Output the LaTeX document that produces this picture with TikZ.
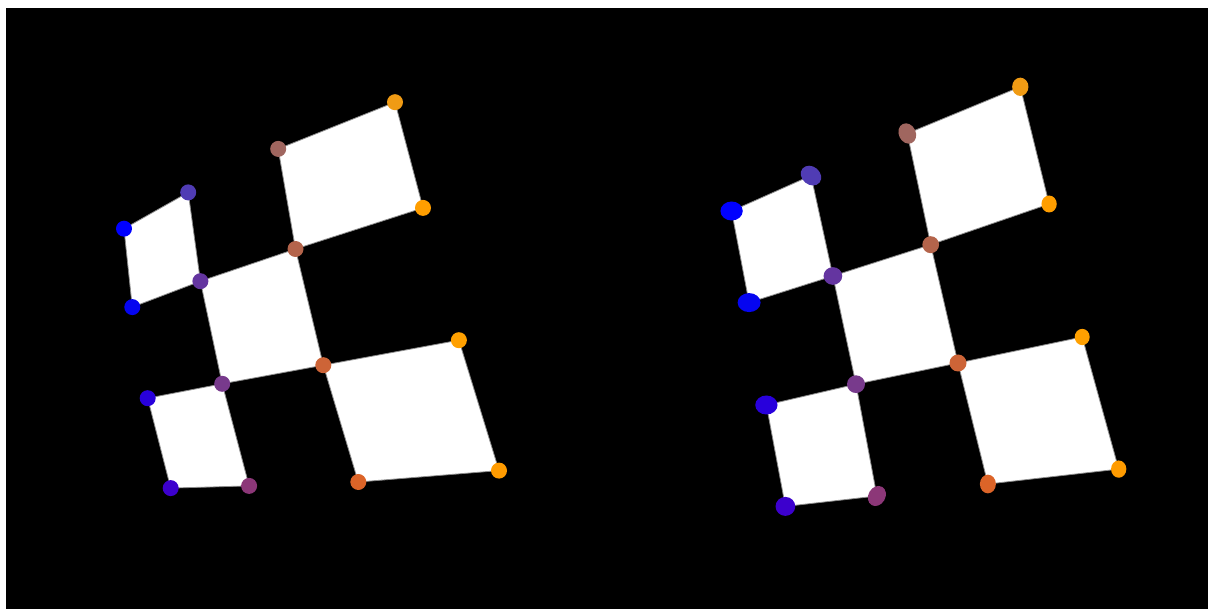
\documentclass[tikz,border=0pt]{standalone}
\usetikzlibrary{calc,shapes.geometric}
\definecolor{cAa}{HTML}{0000FF}
\definecolor{cAb}{HTML}{503CB4}
\definecolor{cAc}{HTML}{0505F0}
\definecolor{cAd}{HTML}{6435A0}
\definecolor{cBa}{HTML}{A0665F}
\definecolor{cBb}{HTML}{F09B14}
\definecolor{cBc}{HTML}{FF9E00}
\definecolor{cBd}{HTML}{B4644B}
\definecolor{cC}{HTML}{CD6437}
\definecolor{cD}{HTML}{783A8C}
\definecolor{cEa}{HTML}{2800DC}
\definecolor{cEb}{HTML}{3C00CD}
\definecolor{cEc}{HTML}{8C3778}
\definecolor{cFa}{HTML}{FFA000}
\definecolor{cFb}{HTML}{FF9B00}
\definecolor{cFc}{HTML}{DC6428}
\begin{document}
\begin{tikzpicture}[x=1pt,y=-1pt,
  quad/.style={fill=white,draw=white!55!black,line width=0.8pt,line join=round},
  dotc/.style={circle,inner sep=0pt,minimum size=16pt,draw=none},
  doto/.style={ellipse,inner sep=0pt,draw=none}]
\useasboundingbox (0,0) rectangle (1208,609);
\fill[white] (0,0) rectangle (1208,609);
\fill[black] (6,8.5) rectangle (1208,609);
% ---------- left panel corners ----------
\coordinate (LA1) at (124,228.7);
\coordinate (LA2) at (188.2,192.4);
\coordinate (LA3) at (132.3,307.1);
\coordinate (LA4) at (200.4,281.2);
\coordinate (LB1) at (278.2,148.9);
\coordinate (LB2) at (395,102.2);
\coordinate (LB3) at (423,207.9);
\coordinate (LB4) at (295.5,249);
\coordinate (LC) at (323.3,365.2);
\coordinate (LD) at (222.2,383.8);
\coordinate (LE1) at (147.7,398.2);
\coordinate (LE2) at (170.7,488.1);
\coordinate (LE3) at (249.1,485.9);
\coordinate (LF1) at (458.9,340.2);
\coordinate (LF2) at (499,470.6);
\coordinate (LF3) at (358.3,482);
% ---------- right panel corners ----------
\coordinate (RA1) at (731.6,211);
\coordinate (RA2) at (811,175.6);
\coordinate (RA3) at (749.1,302.6);
\coordinate (RA4) at (832.9,276);
\coordinate (RB1) at (907.3,133.5);
\coordinate (RB2) at (1020.3,86.8);
\coordinate (RB3) at (1049.1,204);
\coordinate (RB4) at (930.7,244.7);
\coordinate (RC) at (958,363);
\coordinate (RD) at (856,384.2);
\coordinate (RE1) at (766.4,405);
\coordinate (RE2) at (785.4,506.4);
\coordinate (RE3) at (876.9,496);
\coordinate (RF1) at (1082.2,337);
\coordinate (RF2) at (1118.7,469.1);
\coordinate (RF3) at (987.9,484);
% ---------- left panel squares ----------
\path[quad] (LA1) -- (LA2) -- (LA4) -- (LA3) -- cycle;
\path[quad] (LB1) -- (LB2) -- (LB3) -- (LB4) -- cycle;
\path[quad] (LA4) -- (LB4) -- (LC) -- (LD) -- cycle;
\path[quad] (LE1) -- (LD) -- (LE3) -- (LE2) -- cycle;
\path[quad] (LC) -- (LF1) -- (LF2) -- (LF3) -- cycle;
% ---------- right panel squares ----------
\path[quad] (RA1) -- (RA2) -- (RA4) -- (RA3) -- cycle;
\path[quad] (RB1) -- (RB2) -- (RB3) -- (RB4) -- cycle;
\path[quad] (RA4) -- (RB4) -- (RC) -- (RD) -- cycle;
\path[quad] (RE1) -- (RD) -- (RE3) -- (RE2) -- cycle;
\path[quad] (RC) -- (RF1) -- (RF2) -- (RF3) -- cycle;
% ---------- left panel dots ----------
\node[dotc,fill=cAa] (dLA1) at (LA1) {};
\node[dotc,fill=cAb] (dLA2) at (LA2) {};
\node[dotc,fill=cAc] (dLA3) at (LA3) {};
\node[dotc,fill=cAd] (dLA4) at (LA4) {};
\node[dotc,fill=cBa] (dLB1) at (LB1) {};
\node[dotc,fill=cBb] (dLB2) at (LB2) {};
\node[dotc,fill=cBc] (dLB3) at (LB3) {};
\node[dotc,fill=cBd] (dLB4) at (LB4) {};
\node[dotc,fill=cC] (dLC) at (LC) {};
\node[dotc,fill=cD] (dLD) at (LD) {};
\node[dotc,fill=cEa] (dLE1) at (LE1) {};
\node[dotc,fill=cEb] (dLE2) at (LE2) {};
\node[dotc,fill=cEc] (dLE3) at (LE3) {};
\node[dotc,fill=cFa] (dLF1) at (LF1) {};
\node[dotc,fill=cFb] (dLF2) at (LF2) {};
\node[dotc,fill=cFc] (dLF3) at (LF3) {};
% ---------- right panel dots (stretched) ----------
\node[doto,fill=cAa,minimum width=22.3pt,minimum height=19pt] (dRA1) at (RA1) {};
\node[doto,fill=cAb,minimum width=22pt,minimum height=18pt,rotate=-40] (dRA2) at (RA2) {};
\node[doto,fill=cAc,minimum width=23pt,minimum height=19pt] (dRA3) at (RA3) {};
\node[doto,fill=cAd,minimum width=18.7pt,minimum height=17.7pt] (dRA4) at (RA4) {};
\node[doto,fill=cBa,minimum width=21pt,minimum height=17pt,rotate=-65] (dRB1) at (RB1) {};
\node[doto,fill=cBb,minimum width=16.3pt,minimum height=18.3pt] (dRB2) at (RB2) {};
\node[doto,fill=cBc,minimum width=15.3pt,minimum height=17pt] (dRB3) at (RB3) {};
\node[doto,fill=cBd,minimum width=16.7pt,minimum height=17pt] (dRB4) at (RB4) {};
\node[doto,fill=cC,minimum width=17pt,minimum height=17pt] (dRC) at (RC) {};
\node[doto,fill=cD,minimum width=18pt,minimum height=17.7pt] (dRD) at (RD) {};
\node[doto,fill=cEa,minimum width=22.3pt,minimum height=19pt] (dRE1) at (RE1) {};
\node[doto,fill=cEb,minimum width=19.7pt,minimum height=19pt] (dRE2) at (RE2) {};
\node[doto,fill=cEc,minimum width=21pt,minimum height=17pt,rotate=60] (dRE3) at (RE3) {};
\node[doto,fill=cFa,minimum width=15pt,minimum height=16.3pt] (dRF1) at (RF1) {};
\node[doto,fill=cFb,minimum width=15.3pt,minimum height=17.3pt] (dRF2) at (RF2) {};
\node[doto,fill=cFc,minimum width=16pt,minimum height=18.7pt] (dRF3) at (RF3) {};
\end{tikzpicture}
\end{document}
